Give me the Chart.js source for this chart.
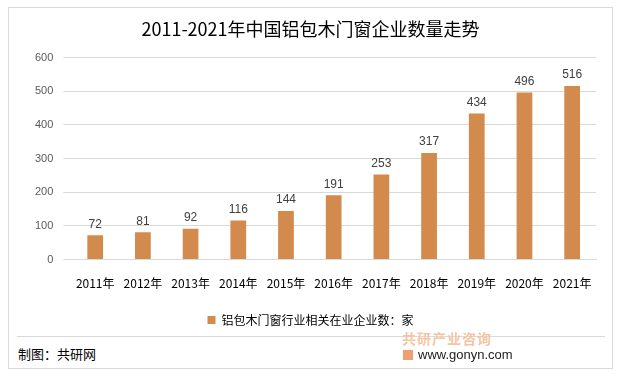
<!DOCTYPE html>
<html>
<head>
<meta charset="utf-8">
<script src="https://cdn.jsdelivr.net/npm/chart.js@4"></script>
<style>
  body { margin: 0; background: #fff; font-family: "Noto Sans CJK SC", sans-serif; }
  #frame { position: absolute; left: 8px; top: 7px; width: 605px; height: 362px; border: 1px solid #d9d9d9; box-sizing: border-box; }
  #box { position: absolute; left: 9px; top: 8px; width: 603px; height: 328px; }
  #sep { position: absolute; left: 17px; top: 336px; width: 588px; height: 1px; background: #d9d9d9; }
  #src { position: absolute; left: 18px; top: 344px; font-size: 13px; color: #000; }
  #logo1 { position: absolute; left: 402px; top: 328px; font-size: 14px; font-weight: bold; color: #f5c4a2; letter-spacing: 1px; }
  #logo2 { position: absolute; left: 403px; top: 347px; font-size: 13px; color: #222; font-family: "Liberation Sans", sans-serif; }
  #logo2 span { display: inline-block; width: 10px; height: 10px; background: #f0a070; margin-right: 5px; vertical-align: -1px; }
</style>
</head>
<body>
<div id="frame"></div>
<div id="box"><canvas id="c"></canvas></div>
<div id="sep"></div>
<div id="src">制图：共研网</div>
<div id="logo1">共研产业咨询</div>
<div id="logo2"><span></span>www.gonyn.com</div>
<script>
const years = ['2011年', '2012年', '2013年', '2014年', '2015年', '2016年', '2017年', '2018年', '2019年', '2020年', '2021年'];
const counts = [72, 81, 92, 116, 144, 191, 253, 317, 434, 496, 516];
const seriesName = '铝包木门窗行业相关在业企业数：家';
const barColor = '#d38b4d';

// draw value labels above bars
const valueLabels = {
  id: 'valueLabels',
  afterDatasetsDraw(chart) {
    const ctx = chart.ctx;
    const meta = chart.getDatasetMeta(0);
    ctx.save();
    ctx.font = '12px "Liberation Sans", sans-serif';
    ctx.fillStyle = '#404040';
    ctx.textAlign = 'center';
    ctx.textBaseline = 'bottom';
    meta.data.forEach((bar, i) => {
      ctx.fillText(counts[i], bar.x, bar.y - 5);
    });
    ctx.restore();
  }
};

new Chart(document.getElementById('c'), {
  type: 'bar',
  data: {
    labels: years,
    datasets: [{
      label: seriesName,
      data: counts,
      backgroundColor: barColor,
      categoryPercentage: 0.66,
      barPercentage: 0.5
    }]
  },
  options: {
    responsive: true,
    maintainAspectRatio: false,
    animation: false,
    layout: { padding: { left: 16, right: 16, top: 0, bottom: 0 } },
    plugins: {
      title: {
        display: true,
        text: '2011-2021年中国铝包木门窗企业数量走势',
        color: '#000',
        font: { size: 18, family: '"Noto Sans CJK SC", sans-serif', weight: 'normal' },
        padding: { top: 10, bottom: 18 }
      },
      legend: {
        position: 'bottom',
        labels: {
          boxWidth: 8, boxHeight: 8,
          color: '#000',
          font: { size: 12, family: '"Noto Sans CJK SC", sans-serif' },
          padding: 14
        }
      },
      tooltip: { enabled: false }
    },
    scales: {
      x: {
        grid: { display: false },
        border: { color: '#d9d9d9' },
        ticks: { color: '#000', font: { size: 12, family: '"Noto Sans CJK SC", sans-serif' }, maxRotation: 0, padding: 9 },
        afterFit(axis) { axis.height += 0; }
      },
      y: {
        min: 0, max: 600,
        ticks: { stepSize: 100, color: '#595959', font: { size: 11, family: '"Liberation Sans", sans-serif' }, padding: 10 },
        grid: { color: '#d9d9d9' },
        border: { display: false }
      }
    }
  },
  plugins: [valueLabels]
});
</script>
</body>
</html>
